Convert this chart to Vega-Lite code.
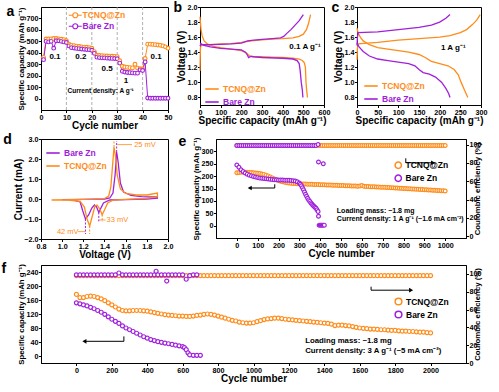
{
"$schema":"https://vega.github.io/schema/vega-lite/v6.json",
"padding":{"left":1,"top":0,"right":0,"bottom":0},
"spacing":0,
"resolve":{"scale":{"color":"independent"},"legend":{"color":"independent"}},
"config":{
 "font":"Liberation Sans",
 "view":{"stroke":"#000","strokeWidth":1},
 "axis":{"grid":false,"domainColor":"#000","domainWidth":1,"tickColor":"#000","tickSize":2.5,"labelFontSize":7.2,"labelFontWeight":"bold","labelColor":"#000","labelPadding":0.5,"titleFontSize":10,"titleFontWeight":"bold","titleColor":"#000","titlePadding":0.5,"labelFlush":false,"labelOverlap":false,"tickCount":30},
 "legend":{"labelFontSize":8.5,"labelFontWeight":"bold","rowPadding":0,"padding":0,"labelOffset":3},
 "title":{"fontSize":14,"fontWeight":"bold","anchor":"start","frame":"bounds","offset":-12,"color":"#000"},
 "text":{"font":"Liberation Sans","fontWeight":"bold"}
},
"vconcat":[
{"hconcat":[
 {"width":127,"height":103,
  "title":{"text":"a","dx":-11},
  "data":{"values":[
   {"c":1,"T":360,"B":340},{"c":2,"T":520,"B":500},{"c":3,"T":520,"B":495},{"c":4,"T":522,"B":500},{"c":5,"T":525,"B":440},{"c":6,"T":525,"B":505},{"c":7,"T":522,"B":505},{"c":8,"T":518,"B":500},{"c":9,"T":515,"B":495},{"c":10,"T":505,"B":490},
   {"c":11,"T":475,"B":460},{"c":12,"T":465,"B":445},{"c":13,"T":462,"B":442},{"c":14,"T":458,"B":438},{"c":15,"T":455,"B":436},{"c":16,"T":452,"B":433},{"c":17,"T":450,"B":431},{"c":18,"T":448,"B":429},{"c":19,"T":445,"B":427},{"c":20,"T":440,"B":422},
   {"c":21,"T":410,"B":395},{"c":22,"T":378,"B":362},{"c":23,"T":376,"B":358},{"c":24,"T":375,"B":356},{"c":25,"T":373,"B":355},{"c":26,"T":372,"B":353},{"c":27,"T":371,"B":352},{"c":28,"T":370,"B":351},{"c":29,"T":369,"B":350},{"c":30,"T":367,"B":348},
   {"c":31,"T":330,"B":310},{"c":32,"T":282,"B":238},{"c":33,"T":276,"B":232},{"c":34,"T":272,"B":228},{"c":35,"T":270,"B":226},{"c":36,"T":268,"B":224},{"c":37,"T":300,"B":222},{"c":38,"T":266,"B":222},{"c":39,"T":262,"B":250},{"c":40,"T":258,"B":245},
   {"c":41,"T":350,"B":320},{"c":42,"T":475,"B":5},{"c":43,"T":475,"B":3},{"c":44,"T":473,"B":3},{"c":45,"T":471,"B":3},{"c":46,"T":468,"B":3},{"c":47,"T":465,"B":3},{"c":48,"T":460,"B":3},{"c":49,"T":452,"B":3},{"c":50,"T":440,"B":3}]},
  "layer":[
   {"data":{"values":[{"c":10},{"c":20},{"c":30},{"c":40}]},"mark":{"type":"rule","strokeDash":[3,2],"color":"#9a9a9a","strokeWidth":0.8},"encoding":{"x":{"field":"c","type":"quantitative","title":"Cycle number"}}},
   {"transform":[{"fold":["T","B"],"as":["s","v"]}],"mark":{"type":"line","strokeWidth":1},
    "encoding":{"x":{"field":"c","type":"quantitative","scale":{"domain":[0,50]},"axis":{"values":[0,10,20,30,40,50],"tickCount":30},"title":"Cycle number"},
     "y":{"field":"v","type":"quantitative","scale":{"domain":[-30,715]},"axis":{"values":[0,100,200,300,400,500,600,700],"tickCount":30,"titleFontSize":8},"title":"Specific capacity (mAh g⁻¹)"},
     "color":{"field":"s","type":"nominal","scale":{"domain":["T","B"],"range":["#FF8C1A","#A020DC"]},
      "legend":{"title":null,"orient":"none","legendX":30,"legendY":4,"symbolType":"M-2.6,0H-1M1,0H2.6M1,0A1,1,0,1,1,-1,0A1,1,0,1,1,1,0","symbolSize":25,"symbolStrokeWidth":1.2,"labelExpr":"datum.value == 'T' ? 'TCNQ@Zn' : 'Bare Zn'",
       "encode":{"labels":{"update":{"fill":{"signal":"datum.value == 'B' ? '#A020DC' : '#FF8C1A'"}}},"symbols":{"update":{"fill":{"value":"#fff"}}}}}}}},
   {"transform":[{"fold":["T","B"],"as":["s","v"]}],"mark":{"type":"point","filled":false,"fill":"#fff","size":14,"strokeWidth":1.1,"opacity":1},
    "encoding":{"x":{"field":"c","type":"quantitative","title":"Cycle number"},"y":{"field":"v","type":"quantitative","title":"Specific capacity (mAh g⁻¹)"},"color":{"field":"s","type":"nominal"}}},
   {"data":{"values":[{"c":5.5,"v":366,"t":"0.1"},{"c":15.7,"v":362,"t":"0.2"},{"c":26,"v":262,"t":"0.5"},{"c":33.5,"v":152,"t":"1"},{"c":45.3,"v":366,"t":"0.1"}]},
    "mark":{"type":"text","fontSize":8,"color":"#000"},"encoding":{"x":{"field":"c","type":"quantitative","title":"Cycle number"},"y":{"field":"v","type":"quantitative","title":"Specific capacity (mAh g⁻¹)"},"text":{"field":"t"}}},
   {"data":{"values":[{"c":23.5,"v":70,"t":"Current density: A g⁻¹"}]},
    "mark":{"type":"text","fontSize":6.5,"color":"#000"},"encoding":{"x":{"field":"c","type":"quantitative","title":"Cycle number"},"y":{"field":"v","type":"quantitative","title":"Specific capacity (mAh g⁻¹)"},"text":{"field":"t"}}}
  ]},
 {"width":124,"height":98,
  "title":{"text":"b","dx":-3},
  "data":{"values":[
   {"s":"T","g":"Td","x":0,"y":1.87},{"s":"T","g":"Td","x":2,"y":1.8},{"s":"T","g":"Td","x":5,"y":1.7},{"s":"T","g":"Td","x":10,"y":1.62},{"s":"T","g":"Td","x":20,"y":1.55},{"s":"T","g":"Td","x":35,"y":1.51},{"s":"T","g":"Td","x":50,"y":1.49},{"s":"T","g":"Td","x":80,"y":1.47},{"s":"T","g":"Td","x":100,"y":1.46},{"s":"T","g":"Td","x":150,"y":1.44},{"s":"T","g":"Td","x":200,"y":1.42},{"s":"T","g":"Td","x":225,"y":1.39},{"s":"T","g":"Td","x":240,"y":1.35},{"s":"T","g":"Td","x":260,"y":1.34},{"s":"T","g":"Td","x":300,"y":1.34},{"s":"T","g":"Td","x":350,"y":1.335},{"s":"T","g":"Td","x":400,"y":1.33},{"s":"T","g":"Td","x":450,"y":1.32},{"s":"T","g":"Td","x":480,"y":1.31},{"s":"T","g":"Td","x":495,"y":1.29},{"s":"T","g":"Td","x":505,"y":1.26},{"s":"T","g":"Td","x":510,"y":1.2},{"s":"T","g":"Td","x":513,"y":1.0},{"s":"T","g":"Td","x":516,"y":0.9},{"s":"T","g":"Td","x":520,"y":0.8},
   {"s":"T","g":"Tc","x":0,"y":1.15},{"s":"T","g":"Tc","x":1,"y":1.3},{"s":"T","g":"Tc","x":2,"y":1.45},{"s":"T","g":"Tc","x":5,"y":1.49},{"s":"T","g":"Tc","x":50,"y":1.5},{"s":"T","g":"Tc","x":100,"y":1.51},{"s":"T","g":"Tc","x":150,"y":1.515},{"s":"T","g":"Tc","x":200,"y":1.53},{"s":"T","g":"Tc","x":250,"y":1.55},{"s":"T","g":"Tc","x":300,"y":1.565},{"s":"T","g":"Tc","x":350,"y":1.575},{"s":"T","g":"Tc","x":400,"y":1.58},{"s":"T","g":"Tc","x":450,"y":1.59},{"s":"T","g":"Tc","x":480,"y":1.61},{"s":"T","g":"Tc","x":500,"y":1.64},{"s":"T","g":"Tc","x":515,"y":1.7},{"s":"T","g":"Tc","x":525,"y":1.78},{"s":"T","g":"Tc","x":535,"y":1.9},
   {"s":"B","g":"Bd","x":0,"y":1.52},{"s":"B","g":"Bd","x":20,"y":1.49},{"s":"B","g":"Bd","x":50,"y":1.47},{"s":"B","g":"Bd","x":100,"y":1.45},{"s":"B","g":"Bd","x":150,"y":1.44},{"s":"B","g":"Bd","x":200,"y":1.43},{"s":"B","g":"Bd","x":220,"y":1.4},{"s":"B","g":"Bd","x":230,"y":1.36},{"s":"B","g":"Bd","x":235,"y":1.33},{"s":"B","g":"Bd","x":245,"y":1.345},{"s":"B","g":"Bd","x":260,"y":1.34},{"s":"B","g":"Bd","x":300,"y":1.33},{"s":"B","g":"Bd","x":400,"y":1.32},{"s":"B","g":"Bd","x":450,"y":1.31},{"s":"B","g":"Bd","x":470,"y":1.29},{"s":"B","g":"Bd","x":480,"y":1.25},{"s":"B","g":"Bd","x":485,"y":1.15},{"s":"B","g":"Bd","x":490,"y":1.0},{"s":"B","g":"Bd","x":495,"y":0.9},{"s":"B","g":"Bd","x":498,"y":0.8},
   {"s":"B","g":"Bc","x":0,"y":1.48},{"s":"B","g":"Bc","x":3,"y":1.5},{"s":"B","g":"Bc","x":50,"y":1.5},{"s":"B","g":"Bc","x":100,"y":1.505},{"s":"B","g":"Bc","x":150,"y":1.51},{"s":"B","g":"Bc","x":200,"y":1.52},{"s":"B","g":"Bc","x":230,"y":1.55},{"s":"B","g":"Bc","x":260,"y":1.56},{"s":"B","g":"Bc","x":300,"y":1.57},{"s":"B","g":"Bc","x":350,"y":1.58},{"s":"B","g":"Bc","x":390,"y":1.59},{"s":"B","g":"Bc","x":405,"y":1.61},{"s":"B","g":"Bc","x":420,"y":1.65},{"s":"B","g":"Bc","x":440,"y":1.7},{"s":"B","g":"Bc","x":460,"y":1.76},{"s":"B","g":"Bc","x":480,"y":1.82},{"s":"B","g":"Bc","x":500,"y":1.9}]},
  "layer":[
   {"mark":{"type":"line","strokeWidth":1.3},
    "encoding":{"x":{"field":"x","type":"quantitative","scale":{"domain":[0,600]},"axis":{"values":[0,100,200,300,400,500,600],"tickCount":30},"title":"Specific capacity (mAh g⁻¹)"},
     "y":{"field":"y","type":"quantitative","scale":{"domain":[0.7,2.0]},"axis":{"values":[0.8,1.0,1.2,1.4,1.6,1.8,2.0],"format":".1f","tickCount":30},"title":"Voltage (V)"},
     "detail":{"field":"g"},
     "color":{"field":"s","type":"nominal","scale":{"domain":["T","B"],"range":["#FF8C1A","#A020DC"]},
      "legend":{"title":null,"orient":"none","legendX":4,"legendY":74,"symbolType":"stroke","symbolSize":180,"symbolStrokeWidth":1.6,"labelExpr":"datum.value == 'T' ? 'TCNQ@Zn' : 'Bare Zn'",
       "encode":{"labels":{"update":{"fill":{"signal":"datum.value == 'B' ? '#A020DC' : '#FF8C1A'"}}}}}}}},
   {"data":{"values":[{"x":508,"y":1.47,"t":"0.1 A g⁻¹"}]},"mark":{"type":"text","fontSize":8,"color":"#000"},
    "encoding":{"x":{"field":"x","type":"quantitative","title":"Specific capacity (mAh g⁻¹)"},"y":{"field":"y","type":"quantitative","title":"Voltage (V)"},"text":{"field":"t"}}}
  ]},
 {"width":124,"height":98,
  "title":{"text":"c","dx":-2},
  "data":{"values":[
   {"s":"T","g":"Td","x":0,"y":1.72},{"s":"T","g":"Td","x":3,"y":1.65},{"s":"T","g":"Td","x":8,"y":1.6},{"s":"T","g":"Td","x":15,"y":1.55},{"s":"T","g":"Td","x":30,"y":1.5},{"s":"T","g":"Td","x":50,"y":1.46},{"s":"T","g":"Td","x":75,"y":1.44},{"s":"T","g":"Td","x":100,"y":1.42},{"s":"T","g":"Td","x":125,"y":1.4},{"s":"T","g":"Td","x":150,"y":1.37},{"s":"T","g":"Td","x":165,"y":1.33},{"s":"T","g":"Td","x":180,"y":1.28},{"s":"T","g":"Td","x":200,"y":1.25},{"s":"T","g":"Td","x":220,"y":1.22},{"s":"T","g":"Td","x":235,"y":1.17},{"s":"T","g":"Td","x":245,"y":1.1},{"s":"T","g":"Td","x":252,"y":1.0},{"s":"T","g":"Td","x":260,"y":0.9},{"s":"T","g":"Td","x":268,"y":0.8},
   {"s":"T","g":"Tc","x":0,"y":1.3},{"s":"T","g":"Tc","x":1,"y":1.45},{"s":"T","g":"Tc","x":3,"y":1.51},{"s":"T","g":"Tc","x":25,"y":1.52},{"s":"T","g":"Tc","x":50,"y":1.53},{"s":"T","g":"Tc","x":100,"y":1.56},{"s":"T","g":"Tc","x":150,"y":1.58},{"s":"T","g":"Tc","x":200,"y":1.6},{"s":"T","g":"Tc","x":225,"y":1.62},{"s":"T","g":"Tc","x":250,"y":1.66},{"s":"T","g":"Tc","x":265,"y":1.7},{"s":"T","g":"Tc","x":280,"y":1.77},{"s":"T","g":"Tc","x":290,"y":1.83},{"s":"T","g":"Tc","x":298,"y":1.9},
   {"s":"B","g":"Bd","x":0,"y":1.52},{"s":"B","g":"Bd","x":5,"y":1.47},{"s":"B","g":"Bd","x":15,"y":1.41},{"s":"B","g":"Bd","x":30,"y":1.35},{"s":"B","g":"Bd","x":50,"y":1.31},{"s":"B","g":"Bd","x":75,"y":1.29},{"s":"B","g":"Bd","x":100,"y":1.27},{"s":"B","g":"Bd","x":125,"y":1.25},{"s":"B","g":"Bd","x":140,"y":1.22},{"s":"B","g":"Bd","x":150,"y":1.17},{"s":"B","g":"Bd","x":160,"y":1.13},{"s":"B","g":"Bd","x":175,"y":1.11},{"s":"B","g":"Bd","x":190,"y":1.07},{"s":"B","g":"Bd","x":205,"y":1.0},{"s":"B","g":"Bd","x":215,"y":0.92},{"s":"B","g":"Bd","x":222,"y":0.85},{"s":"B","g":"Bd","x":225,"y":0.8},
   {"s":"B","g":"Bc","x":0,"y":1.49},{"s":"B","g":"Bc","x":1,"y":1.6},{"s":"B","g":"Bc","x":3,"y":1.66},{"s":"B","g":"Bc","x":50,"y":1.67},{"s":"B","g":"Bc","x":100,"y":1.7},{"s":"B","g":"Bc","x":150,"y":1.73},{"s":"B","g":"Bc","x":180,"y":1.76},{"s":"B","g":"Bc","x":200,"y":1.8},{"s":"B","g":"Bc","x":215,"y":1.85},{"s":"B","g":"Bc","x":225,"y":1.9}]},
  "layer":[
   {"mark":{"type":"line","strokeWidth":1.3},
    "encoding":{"x":{"field":"x","type":"quantitative","scale":{"domain":[0,300]},"axis":{"values":[0,50,100,150,200,250,300],"tickCount":30},"title":"Specific capacity (mAh g⁻¹)"},
     "y":{"field":"y","type":"quantitative","scale":{"domain":[0.7,2.0]},"axis":{"values":[0.8,1.0,1.2,1.4,1.6,1.8,2.0],"format":".1f","tickCount":30},"title":"Voltage (V)"},
     "detail":{"field":"g"},
     "color":{"field":"s","type":"nominal","scale":{"domain":["T","B"],"range":["#FF8C1A","#A020DC"]},
      "legend":{"title":null,"orient":"none","legendX":6,"legendY":71,"symbolType":"stroke","symbolSize":180,"symbolStrokeWidth":1.6,"labelExpr":"datum.value == 'T' ? 'TCNQ@Zn' : 'Bare Zn'",
       "encode":{"labels":{"update":{"fill":{"signal":"datum.value == 'B' ? '#A020DC' : '#FF8C1A'"}}}}}}}},
   {"data":{"values":[{"x":233,"y":1.45,"t":"1 A g⁻¹"}]},"mark":{"type":"text","fontSize":8,"color":"#000"},
    "encoding":{"x":{"field":"x","type":"quantitative","title":"Specific capacity (mAh g⁻¹)"},"y":{"field":"y","type":"quantitative","title":"Voltage (V)"},"text":{"field":"t"}}}
  ]}
 ],"spacing":0,"resolve":{"scale":{"color":"independent"},"legend":{"color":"independent"}}},
{"hconcat":[
 {"width":127,"height":100,
  "title":{"text":"d","dx":-10},
  "layer":[
   {"data":{"values":[
    {"s":"B","o":0,"x":1.0,"y":-0.03},{"s":"B","o":1,"x":1.2,"y":-0.02},{"s":"B","o":2,"x":1.4,"y":0.0},{"s":"B","o":3,"x":1.45,"y":0.05},{"s":"B","o":4,"x":1.48,"y":0.3},{"s":"B","o":5,"x":1.5,"y":1.2},{"s":"B","o":6,"x":1.515,"y":2.35},{"s":"B","o":7,"x":1.53,"y":1.8},{"s":"B","o":8,"x":1.55,"y":0.8},{"s":"B","o":9,"x":1.58,"y":0.35},{"s":"B","o":10,"x":1.65,"y":0.18},{"s":"B","o":11,"x":1.75,"y":0.12},{"s":"B","o":12,"x":1.85,"y":0.1},{"s":"B","o":13,"x":1.9,"y":0.12},{"s":"B","o":14,"x":1.9,"y":0.04},{"s":"B","o":15,"x":1.8,"y":0.0},{"s":"B","o":16,"x":1.6,"y":-0.03},{"s":"B","o":17,"x":1.45,"y":-0.05},{"s":"B","o":18,"x":1.39,"y":-0.2},{"s":"B","o":19,"x":1.346,"y":-0.67},{"s":"B","o":20,"x":1.325,"y":-0.4},{"s":"B","o":21,"x":1.305,"y":-0.3},{"s":"B","o":22,"x":1.28,"y":-0.45},{"s":"B","o":23,"x":1.25,"y":-0.8},{"s":"B","o":24,"x":1.22,"y":-1.0},{"s":"B","o":25,"x":1.195,"y":-0.6},{"s":"B","o":26,"x":1.17,"y":-0.15},{"s":"B","o":27,"x":1.1,"y":-0.04},{"s":"B","o":28,"x":1.0,"y":-0.03},
    {"s":"T","o":0,"x":0.9,"y":-0.05},{"s":"T","o":1,"x":1.1,"y":-0.03},{"s":"T","o":2,"x":1.3,"y":-0.01},{"s":"T","o":3,"x":1.4,"y":0.02},{"s":"T","o":4,"x":1.44,"y":0.15},{"s":"T","o":5,"x":1.46,"y":0.6},{"s":"T","o":6,"x":1.475,"y":1.6},{"s":"T","o":7,"x":1.49,"y":2.6},{"s":"T","o":8,"x":1.505,"y":2.1},{"s":"T","o":9,"x":1.52,"y":1.2},{"s":"T","o":10,"x":1.55,"y":0.5},{"s":"T","o":11,"x":1.6,"y":0.28},{"s":"T","o":12,"x":1.7,"y":0.2},{"s":"T","o":13,"x":1.8,"y":0.2},{"s":"T","o":14,"x":1.9,"y":0.3},{"s":"T","o":15,"x":1.9,"y":0.12},{"s":"T","o":16,"x":1.8,"y":0.03},{"s":"T","o":17,"x":1.6,"y":-0.02},{"s":"T","o":18,"x":1.48,"y":-0.06},{"s":"T","o":19,"x":1.43,"y":-0.2},{"s":"T","o":20,"x":1.4,"y":-0.55},{"s":"T","o":21,"x":1.378,"y":-0.78},{"s":"T","o":22,"x":1.355,"y":-0.5},{"s":"T","o":23,"x":1.33,"y":-0.3},{"s":"T","o":24,"x":1.31,"y":-0.35},{"s":"T","o":25,"x":1.29,"y":-0.75},{"s":"T","o":26,"x":1.26,"y":-1.35},{"s":"T","o":27,"x":1.235,"y":-1.0},{"s":"T","o":28,"x":1.21,"y":-0.4},{"s":"T","o":29,"x":1.17,"y":-0.12},{"s":"T","o":30,"x":1.05,"y":-0.06},{"s":"T","o":31,"x":0.9,"y":-0.05}]},
    "mark":{"type":"line","strokeWidth":1.3},
    "encoding":{"x":{"field":"x","type":"quantitative","scale":{"domain":[0.8,2.0]},"axis":{"values":[0.8,1.0,1.2,1.4,1.6,1.8,2.0],"format":".1f","tickCount":30},"title":"Voltage (V)"},
     "y":{"field":"y","type":"quantitative","scale":{"domain":[-2,3]},"axis":{"values":[-2,-1,0,1,2,3],"tickCount":30},"title":"Current (mA)"},
     "order":{"field":"o"},
     "color":{"field":"s","type":"nominal","scale":{"domain":["B","T"],"range":["#A020DC","#FF8C1A"]},
      "legend":{"title":null,"orient":"none","legendX":4,"legendY":6,"symbolType":"stroke","symbolSize":180,"symbolStrokeWidth":1.6,"labelExpr":"datum.value == 'T' ? 'TCNQ@Zn' : 'Bare Zn'",
       "encode":{"labels":{"update":{"fill":{"signal":"datum.value == 'B' ? '#A020DC' : '#FF8C1A'"}}}}}}}},
   {"data":{"values":[{"s":"T","x":1.49,"y":2.6,"y2":2.9},{"s":"B","x":1.515,"y":2.35,"y2":2.9},{"s":"T","x":1.378,"y":-0.78,"y2":-1.15},{"s":"B","x":1.346,"y":-0.67,"y2":-1.15},{"s":"T","x":1.26,"y":-1.35,"y2":-1.75},{"s":"B","x":1.22,"y":-1.0,"y2":-1.75}]},
    "mark":{"type":"rule","strokeDash":[2,1.5],"strokeWidth":1},
    "encoding":{"x":{"field":"x","type":"quantitative","title":"Voltage (V)"},"y":{"field":"y","type":"quantitative","title":"Current (mA)"},"y2":{"field":"y2"},"color":{"field":"s","type":"nominal"}}},
   {"data":{"values":[{"x":1.52,"x2":1.66,"y":2.72},{"x":1.35,"x2":1.41,"y":-1.05},{"x":1.15,"x2":1.22,"y":-1.63}]},
    "mark":{"type":"rule","color":"#FF8C1A","strokeWidth":0.8},
    "encoding":{"x":{"field":"x","type":"quantitative","title":"Voltage (V)"},"x2":{"field":"x2"},"y":{"field":"y","type":"quantitative","title":"Current (mA)"}}},
   {"data":{"values":[{"x":1.68,"y":2.72,"t":"25 mV"},{"x":1.42,"y":-1.05,"t":"33 mV"},{"x":0.95,"y":-1.63,"t":"42 mV"}]},
    "mark":{"type":"text","fontSize":7.5,"align":"left","color":"#FF8C1A","fontWeight":"normal"},
    "encoding":{"x":{"field":"x","type":"quantitative","title":"Voltage (V)"},"y":{"field":"y","type":"quantitative","title":"Current (mA)"},"text":{"field":"t"}}}
  ]},
 {"width":250,"height":99,
  "title":{"text":"e","dx":-14},
  "data":{"values":[
   {"c":0,"T":214,"B":245,"t":99,"b":99},{"c":10,"T":215,"B":236,"t":99,"b":99},{"c":20,"T":216,"B":226,"t":99,"b":99},{"c":30,"T":216,"B":219,"t":99,"b":99},{"c":40,"T":216,"B":213,"t":99,"b":99},{"c":50,"T":216,"B":208,"t":99,"b":99},{"c":60,"T":215,"B":204,"t":99,"b":99},{"c":70,"T":215,"B":201,"t":99,"b":99},{"c":80,"T":214,"B":198,"t":99,"b":99},{"c":90,"T":213,"B":196,"t":99,"b":99},
   {"c":100,"T":212,"B":194,"t":99,"b":99},{"c":110,"T":211,"B":192,"t":99,"b":99},{"c":120,"T":209,"B":191,"t":99,"b":99},{"c":130,"T":207,"B":190,"t":99,"b":99},{"c":140,"T":204,"B":189,"t":99,"b":99},{"c":150,"T":201,"B":188,"t":99,"b":99},{"c":160,"T":197,"B":187,"t":99,"b":99},{"c":170,"T":193,"B":186,"t":99,"b":99},{"c":180,"T":189,"B":185,"t":99,"b":99},{"c":190,"T":185,"B":185,"t":99,"b":99},
   {"c":200,"T":182,"B":184,"t":99,"b":99},{"c":210,"T":179,"B":184,"t":99,"b":99},{"c":220,"T":177,"B":184,"t":99,"b":99},{"c":230,"T":175,"B":183,"t":99,"b":99},{"c":240,"T":173,"B":183,"t":99,"b":99},{"c":250,"T":172,"B":183,"t":99,"b":99},{"c":260,"T":171,"B":182,"t":99,"b":99},{"c":270,"T":170,"B":181,"t":99,"b":99},{"c":280,"T":170,"B":180,"t":99,"b":99},{"c":290,"T":169,"B":177,"t":99,"b":99},
   {"c":300,"T":169,"B":172,"t":99,"b":99},{"c":305,"B":167},{"c":310,"T":168,"B":161,"t":99,"b":99},{"c":315,"B":153},{"c":320,"T":168,"B":145,"t":99,"b":99},{"c":325,"B":136},{"c":330,"T":168,"B":127,"t":99,"b":99},{"c":335,"B":119},{"c":340,"T":167,"B":111,"t":99,"b":99},{"c":345,"B":104},{"c":350,"T":167,"B":98,"t":99,"b":99},{"c":355,"B":92},{"c":360,"T":167,"B":87,"t":99,"b":99},{"c":365,"B":82},{"c":370,"T":166,"B":78,"t":99,"b":99},{"c":375,"B":74},{"c":380,"T":166,"B":70,"t":99,"b":99},{"c":385,"B":64},{"c":390,"T":166,"B":57,"t":99,"b":100},{"c":392,"B":38,"b":81},{"c":395,"B":2},
   {"c":400,"T":165,"B":2,"t":99},{"c":405,"B":2},{"c":410,"T":165,"B":2,"t":99},{"c":415,"B":2,"b":79},{"c":420,"T":165,"B":2,"t":99},{"c":430,"T":164,"t":99},{"c":440,"T":164,"t":99},{"c":450,"T":164,"t":99},{"c":460,"T":163,"t":99},{"c":470,"T":163,"t":99},{"c":480,"T":163,"t":99},{"c":490,"T":162,"t":99},
   {"c":500,"T":162,"t":99},{"c":510,"T":162,"t":99},{"c":520,"T":161,"t":99},{"c":530,"T":161,"t":99},{"c":540,"T":161,"t":99},{"c":550,"T":160,"t":99},{"c":560,"T":160,"t":99},{"c":570,"T":160,"t":99},{"c":580,"T":159,"t":99},{"c":590,"T":160,"t":99},
   {"c":600,"T":162,"t":99},{"c":610,"T":159,"t":99},{"c":620,"T":158,"t":99},{"c":630,"T":158,"t":99},{"c":640,"T":157,"t":99},{"c":650,"T":157,"t":99},{"c":660,"T":157,"t":99},{"c":670,"T":156,"t":99},{"c":680,"T":156,"t":99},{"c":690,"T":155,"t":99},
   {"c":700,"T":155,"t":99},{"c":710,"T":155,"t":99},{"c":720,"T":154,"t":99},{"c":730,"T":154,"t":99},{"c":740,"T":153,"t":99},{"c":750,"T":153,"t":99},{"c":760,"T":152,"t":99},{"c":770,"T":152,"t":99},{"c":780,"T":151,"t":99},{"c":790,"T":151,"t":99},
   {"c":800,"T":150,"t":99},{"c":810,"T":150,"t":99},{"c":820,"T":149,"t":99},{"c":830,"T":149,"t":99},{"c":840,"T":148,"t":99},{"c":850,"T":148,"t":99},{"c":860,"T":147,"t":99},{"c":870,"T":147,"t":99},{"c":880,"T":146,"t":99},{"c":890,"T":146,"t":99},
   {"c":900,"T":145,"t":99},{"c":910,"T":145,"t":99},{"c":920,"T":144,"t":99},{"c":930,"T":144,"t":99},{"c":940,"T":143,"t":99},{"c":950,"T":143,"t":99},{"c":960,"T":142,"t":99},{"c":970,"T":142,"t":99},{"c":980,"T":141,"t":99},{"c":990,"T":141,"t":99},{"c":1000,"T":140,"t":99}]},
  "layer":[
   {"layer":[
     {"transform":[{"fold":["T","B"],"as":["s","v"]},{"filter":"datum.v != null"}],
      "mark":{"type":"point","filled":false,"fill":"#fff","size":14,"strokeWidth":1.2,"opacity":1},
      "encoding":{"x":{"field":"c","type":"quantitative","scale":{"domain":[-8,1002]},"axis":{"values":[0,100,200,300,400,500,600,700,800,900,1000],"format":"d","tickCount":30},"title":"Cycle number"},
       "y":{"field":"v","type":"quantitative","scale":{"domain":[-5,303]},"axis":{"values":[0,50,100,150,200,250,300],"titleFontSize":8,"tickCount":30},"title":"Specific capacity (mAh g⁻¹)"},
       "color":{"field":"s","type":"nominal","scale":{"domain":["T","B","t","b"],"range":["#FF8C1A","#A020DC","#FF8C1A","#A020DC"]},
        "legend":{"title":null,"values":["T","B"],"orient":"none","legendX":178,"legendY":22,"symbolType":"circle","symbolSize":40,"labelExpr":"datum.value == 'T' ? 'TCNQ@Zn' : 'Bare Zn'",
         "encode":{"labels":{"update":{"fill":{"signal":"datum.value == 'B' ? '#A020DC' : '#FF8C1A'"}}},"symbols":{"update":{"fill":{"signal":"datum.value == 'B' ? '#A020DC' : '#FF8C1A'"}}}}}},
       "order":{"field":"s","sort":"descending"}}},
     {"data":{"values":[{"c":66,"c2":182,"v":152,"v2":152},{"c":182,"c2":182,"v":152,"v2":167},{"c":811,"c2":811,"v":272,"v2":254},{"c":811,"c2":938,"v":254,"v2":254}]},
      "mark":{"type":"rule","color":"#000","strokeWidth":1},
      "encoding":{"x":{"field":"c","type":"quantitative","title":"Cycle number"},"x2":{"field":"c2"},"y":{"field":"v","type":"quantitative","title":"Specific capacity (mAh g⁻¹)"},"y2":{"field":"v2"}}},
     {"data":{"values":[{"c":62,"v":152}]},"mark":{"type":"point","shape":"triangle-left","filled":true,"size":22,"color":"#000","opacity":1},
      "encoding":{"x":{"field":"c","type":"quantitative","title":"Cycle number"},"y":{"field":"v","type":"quantitative","title":"Specific capacity (mAh g⁻¹)"}}},
     {"data":{"values":[{"c":942,"v":254}]},"mark":{"type":"point","shape":"triangle-right","filled":true,"size":22,"color":"#000","opacity":1},
      "encoding":{"x":{"field":"c","type":"quantitative","title":"Cycle number"},"y":{"field":"v","type":"quantitative","title":"Specific capacity (mAh g⁻¹)"}}},
     {"data":{"values":[{"c":480,"v":58,"t":"Loading mass: ~1.8 mg"},{"c":480,"v":26,"t":"Current density: 1 A g⁻¹ (~1.6 mA cm⁻²)"}]},
      "mark":{"type":"text","fontSize":7,"align":"left","color":"#000"},
      "encoding":{"x":{"field":"c","type":"quantitative","title":"Cycle number"},"y":{"field":"v","type":"quantitative","title":"Specific capacity (mAh g⁻¹)"},"text":{"field":"t"}}}
   ]},
   {"transform":[{"fold":["t","b"],"as":["s","v"]},{"filter":"datum.v != null"}],
    "mark":{"type":"point","filled":false,"fill":"#fff","size":14,"strokeWidth":1.2,"opacity":1},
    "encoding":{"x":{"field":"c","type":"quantitative","title":"Cycle number"},
     "y":{"field":"v","type":"quantitative","scale":{"domain":[-2,106]},"axis":{"orient":"right","values":[0,20,40,60,80,100],"titleFontSize":7.8,"titleAngle":270,"tickCount":30},"title":"Coulombic efficiency (%)"},
     "color":{"field":"s","type":"nominal"},
     "order":{"field":"s","sort":"descending"}}}
  ],
  "resolve":{"scale":{"y":"independent"}}}
 ],"spacing":4,"resolve":{"scale":{"color":"independent"},"legend":{"color":"independent"}}},
{"width":425,"height":98,
 "title":{"text":"f","dx":-16},
 "data":{"values":[
  {"c":0,"T":176,"B":152,"t":98,"b":99},{"c":20,"T":167,"B":149,"t":98,"b":99},{"c":40,"T":167,"B":146,"t":98,"b":99},{"c":60,"T":170,"B":143,"t":98,"b":99},{"c":80,"T":171,"B":139,"t":98,"b":99},{"c":100,"T":170,"B":135,"t":98,"b":99},{"c":120,"T":167,"B":130,"t":98,"b":99},{"c":140,"T":163,"B":125,"t":98,"b":99},{"c":160,"T":158,"B":119,"t":98,"b":99},{"c":180,"T":152,"B":112,"t":98,"b":99},
  {"c":200,"T":146,"B":105,"t":98,"b":99},{"c":220,"T":140,"B":99,"t":98,"b":99},{"c":240,"T":134,"B":93,"t":98,"b":101},{"c":260,"T":130,"B":86,"t":98,"b":99},{"c":280,"T":129,"B":80,"t":98,"b":99},{"c":300,"T":129,"B":75,"t":98,"b":99},{"c":320,"T":130,"B":70,"t":98,"b":99},{"c":340,"T":130,"B":65,"t":98,"b":99},{"c":360,"T":130,"B":60,"t":98,"b":99},{"c":380,"T":129,"B":55,"t":98,"b":99},
  {"c":400,"T":128,"B":51,"t":98,"b":99},{"c":420,"T":126,"B":47,"t":98,"b":99},{"c":440,"T":124,"B":44,"t":98,"b":99},{"c":450,"b":103},{"c":460,"T":122,"B":41,"t":98,"b":99},{"c":480,"T":120,"B":39,"t":98,"b":99},{"c":500,"T":118,"B":37,"t":98,"b":99},{"c":510,"b":92},{"c":520,"T":117,"B":35,"t":98,"b":99},{"c":540,"T":116,"B":33,"t":98,"b":99},{"c":560,"T":115,"B":31,"t":98,"b":99},{"c":580,"T":114,"B":29,"t":98,"b":99},
  {"c":600,"T":114,"B":27,"t":98,"b":99},{"c":610,"B":24},{"c":620,"T":113,"B":18,"t":98,"b":94},{"c":630,"B":9},{"c":640,"T":113,"B":3,"t":98,"b":98},{"c":660,"T":114,"B":2,"t":98,"b":99},{"c":680,"T":116,"B":2,"t":98,"b":99},{"c":700,"T":117,"B":2,"t":98},{"c":720,"T":119,"t":98},{"c":740,"T":120,"t":98},{"c":760,"T":119,"t":98},{"c":780,"T":117,"t":98},
  {"c":800,"T":114,"t":98},{"c":820,"T":111,"t":98},{"c":840,"T":108,"t":98},{"c":860,"T":105,"t":98},{"c":880,"T":102,"t":98},{"c":900,"T":100,"t":98},{"c":920,"T":97,"t":98},{"c":940,"T":95,"t":98},{"c":960,"T":94,"t":98},{"c":980,"T":94,"t":98},
  {"c":1000,"T":95,"t":98},{"c":1020,"T":98,"t":98},{"c":1040,"T":101,"t":98},{"c":1060,"T":104,"t":98},{"c":1080,"T":106,"t":98},{"c":1100,"T":107,"t":98},{"c":1120,"T":108,"t":98},{"c":1140,"T":108,"t":98},{"c":1160,"T":107,"t":98},{"c":1180,"T":105,"t":98},
  {"c":1200,"T":104,"t":98},{"c":1220,"T":103,"t":98},{"c":1240,"T":102,"t":98},{"c":1260,"T":101,"t":98},{"c":1280,"T":100,"t":98},{"c":1300,"T":99,"t":98},{"c":1320,"T":98,"t":98},{"c":1340,"T":97,"t":98},{"c":1360,"T":96,"t":98},{"c":1380,"T":95,"t":98},
  {"c":1400,"T":94,"t":98},{"c":1420,"T":93,"t":98},{"c":1440,"T":91,"t":98},{"c":1460,"T":87,"t":98},{"c":1480,"T":88,"t":98},{"c":1500,"T":88,"t":98},{"c":1520,"T":87,"t":98},{"c":1540,"T":86,"t":98},{"c":1560,"T":84,"t":98},{"c":1580,"T":82,"t":98},
  {"c":1600,"T":80,"t":98},{"c":1620,"T":79,"t":98},{"c":1640,"T":78,"t":98},{"c":1660,"T":77,"t":98},{"c":1680,"T":77,"t":98},{"c":1700,"T":76,"t":98},{"c":1720,"T":75,"t":98},{"c":1740,"T":75,"t":98},{"c":1760,"T":74,"t":98},{"c":1780,"T":73,"t":98},
  {"c":1800,"T":73,"t":98},{"c":1820,"T":72,"t":98},{"c":1840,"T":71,"t":98},{"c":1860,"T":71,"t":98},{"c":1880,"T":70,"t":98},{"c":1900,"T":70,"t":98},{"c":1920,"T":69,"t":98},{"c":1940,"T":68,"t":98},{"c":1960,"T":68,"t":98},{"c":1980,"T":67,"t":98},{"c":2000,"T":66,"t":98}]},
 "layer":[
  {"layer":[
    {"transform":[{"fold":["T","B"],"as":["s","v"]},{"filter":"datum.v != null"}],
     "mark":{"type":"point","filled":false,"fill":"#fff","size":16,"strokeWidth":1.2,"opacity":1},
     "encoding":{"x":{"field":"c","type":"quantitative","scale":{"domain":[-10,2010]},"axis":{"values":[0,200,400,600,800,1000,1200,1400,1600,1800,2000],"format":"d","tickCount":30},"title":"Cycle number"},
      "y":{"field":"v","type":"quantitative","scale":{"domain":[-6,243]},"axis":{"values":[0,40,80,120,160,200,240],"titleFontSize":7.8,"tickCount":30},"title":"Specific capacity (mAh g⁻¹)"},
      "color":{"field":"s","type":"nominal","scale":{"domain":["T","B","t","b"],"range":["#FF8C1A","#A020DC","#FF8C1A","#A020DC"]},
       "legend":{"title":null,"values":["T","B"],"orient":"none","legendX":353,"legendY":32,"symbolType":"circle","symbolSize":45,"labelExpr":"datum.value == 'T' ? 'TCNQ@Zn' : 'Bare Zn'",
        "encode":{"labels":{"update":{"fill":{"signal":"datum.value == 'B' ? '#A020DC' : '#FF8C1A'"}}},"symbols":{"update":{"fill":{"signal":"datum.value == 'B' ? '#A020DC' : '#FF8C1A'"}}}}}},
      "order":{"field":"s","sort":"descending"}}},
    {"data":{"values":[{"c":50,"c2":268,"v":42,"v2":42},{"c":268,"c2":268,"v":42,"v2":56},{"c":1664,"c2":1664,"v":198,"v2":188},{"c":1664,"c2":1880,"v":188,"v2":188}]},
     "mark":{"type":"rule","color":"#000","strokeWidth":1},
     "encoding":{"x":{"field":"c","type":"quantitative","title":"Cycle number"},"x2":{"field":"c2"},"y":{"field":"v","type":"quantitative","title":"Specific capacity (mAh g⁻¹)"},"y2":{"field":"v2"}}},
    {"data":{"values":[{"c":45,"v":42}]},"mark":{"type":"point","shape":"triangle-left","filled":true,"size":22,"color":"#000","opacity":1},
     "encoding":{"x":{"field":"c","type":"quantitative","title":"Cycle number"},"y":{"field":"v","type":"quantitative","title":"Specific capacity (mAh g⁻¹)"}}},
    {"data":{"values":[{"c":1890,"v":188}]},"mark":{"type":"point","shape":"triangle-right","filled":true,"size":22,"color":"#000","opacity":1},
     "encoding":{"x":{"field":"c","type":"quantitative","title":"Cycle number"},"y":{"field":"v","type":"quantitative","title":"Specific capacity (mAh g⁻¹)"}}},
    {"data":{"values":[{"c":1292,"v":42,"t":"Loading mass: ~1.8 mg"},{"c":1292,"v":14,"t":"Current density: 3 A g⁻¹ (~5 mA cm⁻²)"}]},
     "mark":{"type":"text","fontSize":7.8,"align":"left","color":"#000"},
     "encoding":{"x":{"field":"c","type":"quantitative","title":"Cycle number"},"y":{"field":"v","type":"quantitative","title":"Specific capacity (mAh g⁻¹)"},"text":{"field":"t"}}}
  ]},
  {"transform":[{"fold":["t","b"],"as":["s","v"]},{"filter":"datum.v != null"}],
   "mark":{"type":"point","filled":false,"fill":"#fff","size":16,"strokeWidth":1.2,"opacity":1},
   "encoding":{"x":{"field":"c","type":"quantitative","title":"Cycle number"},
    "y":{"field":"v","type":"quantitative","scale":{"domain":[0,110]},"axis":{"orient":"right","values":[0,20,40,60,80,100],"titleFontSize":7.8,"titleAngle":270,"tickCount":30},"title":"Coulombic efficiency (%)"},
    "color":{"field":"s","type":"nominal"},
    "order":{"field":"s","sort":"descending"}}}
 ],
 "resolve":{"scale":{"y":"independent"}}}
]
}
